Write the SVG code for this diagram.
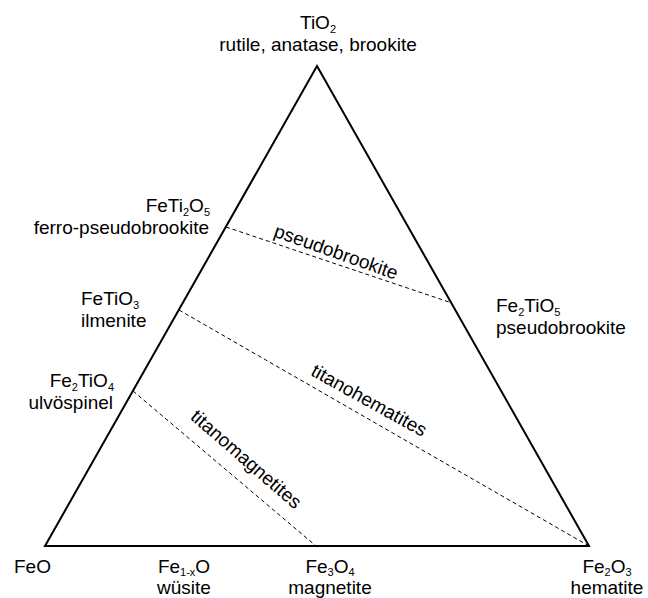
<svg xmlns="http://www.w3.org/2000/svg" width="648" height="598" viewBox="0 0 648 598">
<style>
text{font-family:"Liberation Sans",Arial,sans-serif;font-size:19px;fill:#000}
.s{font-size:11px}
.tri{fill:none;stroke:#000;stroke-width:2;stroke-linejoin:miter}
.dash{fill:none;stroke:#000;stroke-width:1;stroke-dasharray:4 3}
</style>
<rect width="648" height="598" fill="#fff"/>
<g id="triangle"><polygon class="tri" points="317,66 45,546 589,546"/></g>
<g id="connectors">
<line class="dash" x1="226" y1="227" x2="452" y2="303"/>
<line class="dash" x1="179" y1="310" x2="589" y2="546"/>
<line class="dash" x1="133" y1="391" x2="316" y2="546"/>
</g>
<g id="TiO2"><text x="318" y="29" text-anchor="middle">TiO<tspan class="s" dy="4">2</tspan></text>
<text x="318" y="51" text-anchor="middle">rutile, anatase, brookite</text></g>
<g id="FeTi2O5"><text x="210" y="212" text-anchor="end">FeTi<tspan class="s" dy="4">2</tspan><tspan dy="-4">O</tspan><tspan class="s" dy="4">5</tspan></text>
<text x="209" y="234" text-anchor="end">ferro-pseudobrookite</text></g>
<g id="FeTiO3"><text x="81" y="305">FeTiO<tspan class="s" dy="4">3</tspan></text>
<text x="81" y="327">ilmenite</text></g>
<g id="Fe2TiO4"><text x="114" y="387" text-anchor="end">Fe<tspan class="s" dy="4">2</tspan><tspan dy="-4">TiO</tspan><tspan class="s" dy="4">4</tspan></text>
<text x="113" y="409" text-anchor="end">ulvöspinel</text></g>
<g id="Fe2TiO5"><text x="496" y="312">Fe<tspan class="s" dy="4">2</tspan><tspan dy="-4">TiO</tspan><tspan class="s" dy="4">5</tspan></text>
<text x="496" y="334">pseudobrookite</text></g>
<g id="FeO"><text x="14" y="573">FeO</text></g>
<g id="Fe1-xO"><text x="184" y="573" text-anchor="middle">Fe<tspan class="s" dy="3">1-x</tspan><tspan dy="-3">O</tspan></text>
<text x="184" y="594" text-anchor="middle">wüsite</text></g>
<g id="Fe3O4"><text x="330" y="573" text-anchor="middle">Fe<tspan class="s" dy="3">3</tspan><tspan dy="-3">O</tspan><tspan class="s" dy="3">4</tspan></text>
<text x="330" y="594" text-anchor="middle">magnetite</text></g>
<g id="Fe2O3"><text x="607" y="573" text-anchor="middle">Fe<tspan class="s" dy="3">2</tspan><tspan dy="-3">O</tspan><tspan class="s" dy="3">3</tspan></text>
<text x="607" y="594" text-anchor="middle">hematite</text></g>
<g id="regions">
<text x="334" y="258" text-anchor="middle" transform="rotate(19.5 334 258)">pseudobrookite</text>
<text x="366" y="406" text-anchor="middle" transform="rotate(29 366 406)">titanohematites</text>
<text x="242" y="464" text-anchor="middle" transform="rotate(41 242 464)">titanomagnetites</text>
</g>
</svg>
